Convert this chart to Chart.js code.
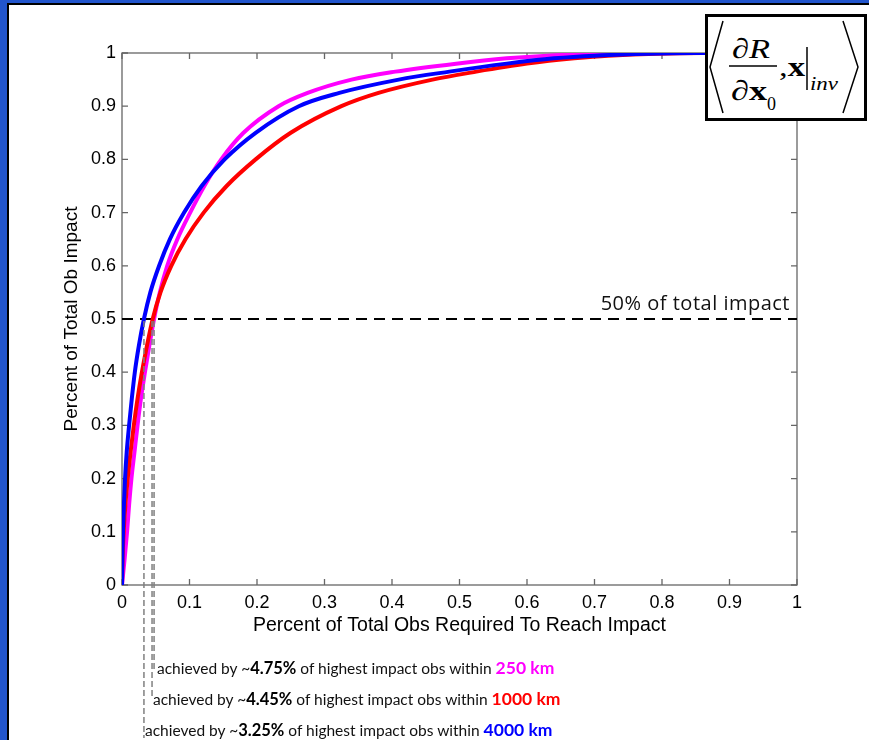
<!DOCTYPE html>
<html>
<head>
<meta charset="utf-8">
<script src="https://cdn.jsdelivr.net/npm/chart.js@4.4.0/dist/chart.umd.min.js"></script>
<style>
  html, body { margin: 0; padding: 0; }
  body { width: 869px; height: 740px; background: #2255cc; position: relative; overflow: hidden; }
  #sheet { position: absolute; left: 7px; top: 3px; width: 900px; height: 800px; background: #fff; border-left: 2px solid #000; border-top: 2px solid #000; }
  #chart { position: absolute; left: 0; top: 0; }
  .note { position: absolute; font-family: Lato, sans-serif; font-size: 15.5px; color: #111; white-space: nowrap; line-height: 20px; }
  .note b { font-size: 16.5px; color: #000; }
  .note .km { font-size: 17.5px; font-weight: bold; }
  #formula { position: absolute; left: 705px; top: 14px; }
</style>
</head>
<body>
<div id="sheet"></div>
<canvas id="chart" width="869" height="740"></canvas>

<div class="note" style="left:157px; top:658px;">achieved by ~<b>4.75%</b> of highest impact obs within <span class="km" style="color:#ff00ff">250 km</span></div>
<div class="note" style="left:153px; top:689px;">achieved by ~<b>4.45%</b> of highest impact obs within <span class="km" style="color:#ff0000">1000 km</span></div>
<div class="note" style="left:145px; top:720px;">achieved by ~<b>3.25%</b> of highest impact obs within <span class="km" style="color:#0000ff">4000 km</span></div>

<svg id="formula" width="162" height="107" xmlns="http://www.w3.org/2000/svg">
  <rect x="1.5" y="1.5" width="159" height="104" fill="#fff" stroke="#000" stroke-width="3"/>
  <polyline points="18,7 5,53 18,99" fill="none" stroke="#000" stroke-width="1.5"/>
  <polyline points="138,7 153,53 138,99" fill="none" stroke="#000" stroke-width="1.5"/>
  <text x="27" y="44" font-family="Liberation Serif" font-size="28" textLength="38" lengthAdjust="spacingAndGlyphs">∂<tspan font-style="italic">R</tspan></text>
  <line x1="24" y1="52" x2="72" y2="52" stroke="#000" stroke-width="1.5"/>
  <text x="26" y="86" font-family="Liberation Serif" font-size="28" textLength="36" lengthAdjust="spacingAndGlyphs">∂<tspan font-weight="bold">x</tspan></text>
  <text x="62" y="96" font-family="Liberation Serif" font-size="19" textLength="9" lengthAdjust="spacingAndGlyphs">0</text>
  <text x="74" y="62" font-family="Liberation Serif" font-size="28" textLength="26" lengthAdjust="spacingAndGlyphs">,<tspan font-weight="bold">x</tspan></text>
  <line x1="102" y1="33" x2="102" y2="76" stroke="#000" stroke-width="1.5"/>
  <text x="105" y="76" font-family="Liberation Serif" font-size="19" font-style="italic" textLength="28" lengthAdjust="spacingAndGlyphs">inv</text>
</svg>

<script>
// impact fraction levels (y), shared by the three curves
const impactLevels = [0, 0.05, 0.1, 0.15, 0.2, 0.25, 0.3, 0.35, 0.4, 0.45, 0.5, 0.55, 0.6, 0.65, 0.7, 0.75, 0.8, 0.85, 0.9, 0.925, 0.95, 0.965, 0.98, 0.99, 0.995, 1.0, 1.0];

// fraction of obs needed to reach each level
const obs250 = [0, 0.004, 0.0075, 0.0105, 0.014, 0.0185, 0.023, 0.028, 0.034, 0.0405, 0.0475, 0.056, 0.067, 0.082, 0.101, 0.122, 0.147, 0.18, 0.232, 0.275, 0.34, 0.405, 0.495, 0.57, 0.63, 0.78, 1.0];
const obs1000 = [0, 0.0008, 0.0025, 0.005, 0.0085, 0.0127, 0.0175, 0.023, 0.0295, 0.037, 0.0455, 0.057, 0.073, 0.094, 0.121, 0.155, 0.198, 0.25, 0.325, 0.38, 0.46, 0.525, 0.6, 0.67, 0.72, 0.86, 1.0];
const obs4000 = [0, 0.0005, 0.0015, 0.0028, 0.0045, 0.007, 0.0105, 0.0145, 0.019, 0.025, 0.0325, 0.042, 0.055, 0.071, 0.092, 0.118, 0.152, 0.198, 0.262, 0.322, 0.41, 0.485, 0.57, 0.64, 0.70, 0.85, 1.0];

// obs fraction needed to hit 50% (250, 1000, 4000 km)
const halfLevel = 0.5;
const halfX = [0.0475, 0.0445, 0.0325];
const halfLineEnd = [672, 697, 738];

const xTicks = [0, 0.1, 0.2, 0.3, 0.4, 0.5, 0.6, 0.7, 0.8, 0.9, 1];
const xTickLabels = ['0', '0.1', '0.2', '0.3', '0.4', '0.5', '0.6', '0.7', '0.8', '0.9', '1'];
const yTicks = [0, 0.1, 0.2, 0.3, 0.4, 0.5, 0.6, 0.7, 0.8, 0.9, 1];
const yTickLabels = ['0', '0.1', '0.2', '0.3', '0.4', '0.5', '0.6', '0.7', '0.8', '0.9', '1'];

const pts = xs => xs.map((x, i) => ({ x: x, y: impactLevels[i] }));

const boxPlugin = {
    id: 'box',
    beforeDatasetsDraw(chart) {
        const { ctx, chartArea: a, scales: { x, y } } = chart;
        ctx.save();
        ctx.strokeStyle = '#666';
        ctx.lineWidth = 1.3;
        ctx.strokeRect(a.left, a.top, a.right - a.left, a.bottom - a.top);
        ctx.beginPath();
        xTicks.forEach(v => {
            const px = x.getPixelForValue(v);
            ctx.moveTo(px, a.bottom); ctx.lineTo(px, a.bottom - 6);
            ctx.moveTo(px, a.top); ctx.lineTo(px, a.top + 6);
        });
        yTicks.forEach(v => {
            const py = y.getPixelForValue(v);
            ctx.moveTo(a.left, py); ctx.lineTo(a.left + 6, py);
            ctx.moveTo(a.right, py); ctx.lineTo(a.right - 6, py);
        });
        ctx.stroke();
        ctx.restore();
    },
    afterDatasetsDraw(chart) {
        const { ctx, scales: { x, y } } = chart;
        const top = y.getPixelForValue(halfLevel);
        ctx.save();
        ctx.strokeStyle = '#808080';
        ctx.lineWidth = 1.5;
        ctx.setLineDash([6, 3]);
        halfX.forEach((v, i) => {
            const px = x.getPixelForValue(v);
            ctx.beginPath();
            ctx.moveTo(px, top + 2);
            ctx.lineTo(px, halfLineEnd[i]);
            ctx.stroke();
        });
        ctx.setLineDash([]);
        ctx.fillStyle = '#111';
        ctx.font = "20px 'Open Sans', sans-serif";
        ctx.letterSpacing = '0.5px';
        ctx.textAlign = 'right';
        ctx.textBaseline = 'alphabetic';
        ctx.fillText('50% of total impact', x.getPixelForValue(1) - 7, top - 9);
        ctx.restore();
    }
};

Chart.defaults.font.family = "'Liberation Sans', Arial, sans-serif";
Chart.defaults.color = '#000';

new Chart(document.getElementById('chart'), {
    type: 'line',
    data: {
        datasets: [
            { label: '4000 km', data: pts(obs4000), borderColor: '#0000ff', borderWidth: 4, pointRadius: 0, cubicInterpolationMode: 'monotone' },
            { label: '1000 km', data: pts(obs1000), borderColor: '#ff0000', borderWidth: 4, pointRadius: 0, cubicInterpolationMode: 'monotone' },
            { label: '250 km', data: pts(obs250), borderColor: '#ff00ff', borderWidth: 4, pointRadius: 0, cubicInterpolationMode: 'monotone' },
            { label: '50%', data: [{ x: 0, y: halfLevel }, { x: 1, y: halfLevel }], borderColor: '#000', borderWidth: 2, borderDash: [11, 7], pointRadius: 0 }
        ]
    },
    options: {
        responsive: false,
        animation: false,
        layout: { padding: { left: 50, top: 53, right: 72, bottom: 100 } },
        plugins: {
            legend: { display: false },
            tooltip: { enabled: false }
        },
        scales: {
            x: {
                type: 'linear',
                min: 0,
                max: 1,
                afterFit: s => { s.height = 55; },
                afterBuildTicks: s => { s.ticks = xTicks.map(v => ({ value: v })); },
                grid: { display: false, drawTicks: false },
                border: { display: false },
                ticks: {
                    autoSkip: false,
                    maxRotation: 0,
                    padding: 7,
                    font: { size: 18 },
                    callback: (v, i) => xTickLabels[i]
                },
                title: {
                    display: true,
                    text: 'Percent of Total Obs Required To Reach Impact',
                    font: { size: 19.5 },
                    padding: { top: 0, bottom: 3 }
                }
            },
            y: {
                type: 'linear',
                min: 0,
                max: 1,
                afterFit: s => { s.width = 72; },
                afterBuildTicks: s => { s.ticks = yTicks.map(v => ({ value: v })); },
                grid: { display: false, drawTicks: false },
                border: { display: false },
                ticks: {
                    autoSkip: false,
                    padding: 6,
                    font: { size: 18 },
                    callback: (v, i) => yTickLabels[i]
                },
                title: {
                    display: true,
                    text: 'Percent of Total Ob Impact',
                    font: { size: 19 },
                    padding: { top: 10, bottom: 0 }
                }
            }
        }
    },
    plugins: [boxPlugin]
});
</script>
</body>
</html>
